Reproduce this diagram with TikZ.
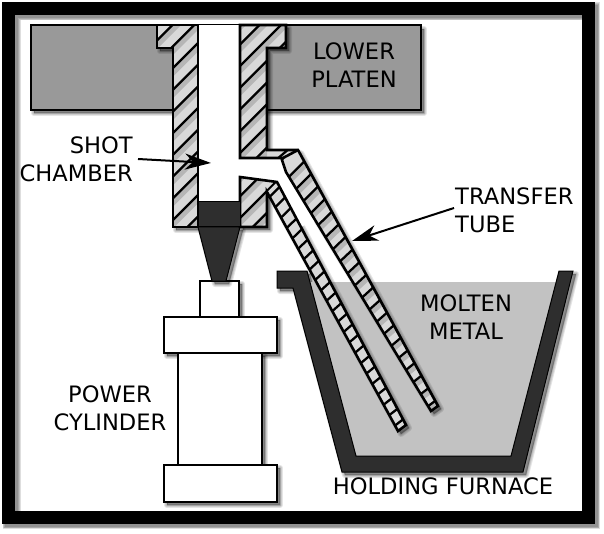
\documentclass[tikz,border=0pt]{standalone}
\usepackage{fontspec}
\setmainfont{DejaVu Sans}
\usetikzlibrary{calc,arrows.meta}
\tikzset{
  x=1pt,y=-1pt,
  outline/.style={draw=black,line width=2.6pt,line join=miter},
  thinline/.style={draw=black,line width=2pt,line join=miter,fill=white},
  darkpart/.style={draw=black,line width=1pt,fill=black!82},
  hatchline/.style={draw=black,line width=2.3pt},
  hatchglow/.style={draw=black,line width=5pt,opacity=.16},
  label/.style={font=\fontsize{22.6}{28}\selectfont,text=black,inner sep=0pt},
  pointer/.style={draw=black,line width=2pt,-{Stealth[length=26pt,width=16pt,inset=8pt]}},
}
\newcommand{\softshadow}[2][3]{%
  \begin{scope}[shift={(#1,#1)}]
    \foreach \w in {6,4,2,.5}{\path[draw=black,fill=black,opacity=.10,line width=\w pt,line join=round] #2;}
  \end{scope}}
\newcommand{\leftbodypath}{(157,25)--(198,25)--(198,227)--(173,227)--(173,48)--(157,48)--cycle}
\newcommand{\rightbodypath}{(240,25)--(286,25)--(286,48)--(267,48)--(267,150)--(298,150)--(438,406)--(431,411)--(286,172)--(282,160)--(283,158)--(240,158)--cycle}
\newcommand{\lowbodypath}{(240,177)--(277,182)--(406,425)--(398,431)--(267,192)--(267,227)--(240,227)--cycle}
\newcommand{\bodyhatch}[1]{\foreach \c in {0,...,19}{\pgfmathsetmacro{\hx}{154.2+\c*21.7}\draw[#1] (\hx+100,-100)--(\hx-300,300);}}
\begin{document}
\begin{tikzpicture}
\useasboundingbox (0,0) rectangle (604,534);
\fill[white] (0,0) rectangle (604,534);
% frame shadow
\foreach \w in {18,16.5,15,13.5}{\draw[black,opacity=.13,line width=\w pt] (11.5,11.5) rectangle (591,520);}
% lower platen
\softshadow{(31,26) rectangle (421,110)}
\node[draw=black,line width=2.6pt,fill=black!40,minimum width=390pt,minimum height=85pt,inner sep=0pt] (platen) at (226,67.5) {};
% molten metal and furnace
\softshadow{(277,271)--(307,271)--(356,456)--(511,456)--(559,271)--(573,271)--(523,472)--(342,472)--(293,288)--(277,288)--cycle}
\fill[black!24] (310,282)--(556,282)--(511,456)--(356,456)--cycle;
\path[darkpart] (277,271)--(307,271)--(356,456)--(511,456)--(559,271)--(573,271)--(523,472)--(342,472)--(293,288)--(277,288)--cycle;
% power cylinder
\softshadow{(200,281) rectangle (239,317)}
\softshadow{(164,317) rectangle (277,353)}
\softshadow{(178,353) rectangle (262,465)}
\softshadow{(164,465) rectangle (277,502)}
\node[thinline,minimum width=84pt,minimum height=112pt,inner sep=0pt] (cyl) at (220,409) {};
\node[thinline,minimum width=39pt,minimum height=36pt,inner sep=0pt] (rod) at (219.5,299) {};
\node[thinline,minimum width=113pt,minimum height=36pt,inner sep=0pt] (capt) at (220.5,335) {};
\node[thinline,minimum width=113pt,minimum height=37pt,inner sep=0pt] (capb) at (220.5,483.5) {};
% shot chamber body
\softshadow{\leftbodypath}
\softshadow{\rightbodypath}
\softshadow{\lowbodypath}
\softshadow{(198,227)--(240,227)--(226,281)--(212,281)--cycle}
\fill[white] (198,25) rectangle (240,205);
\fill[white] (240,158)--(283,158)--(286,172)--(316,221)--(292,230)--(277,182)--(240,177)--cycle;
\path[darkpart] (198,227)--(240,227)--(226,281)--(212,281)--cycle;
\path[darkpart] (198,202) rectangle (240,227);
% hatching
\path[fill=gray!30!white] \leftbodypath;
\begin{scope}
  \clip \leftbodypath;
  \begin{scope}[shift={(2,3)}]\bodyhatch{hatchglow}\end{scope}
  \bodyhatch{hatchline}
\end{scope}
\path[fill=gray!30!white] \rightbodypath;
\path[fill=gray!30!white] \lowbodypath;
\coordinate (ui0) at (286,172); \coordinate (ui1) at (431,411);
\coordinate (uo0) at (298,150); \coordinate (uo1) at (438,406);
\coordinate (lo0) at (267,192); \coordinate (lo1) at (398,431);
\coordinate (hi0) at (277,182); \coordinate (hi1) at (406,425);
\begin{scope}
  \clip (240,25)--(286,25)--(286,48)--(267,48)--(267,158)--(240,158)--cycle;
  \begin{scope}[shift={(2,3)}]\bodyhatch{hatchglow}\end{scope}
  \bodyhatch{hatchline}
\end{scope}
\begin{scope}
  \clip (240,177)--(277,182)--(267,192)--(267,227)--(240,227)--cycle;
  \begin{scope}[shift={(2,3)}]\bodyhatch{hatchglow}\end{scope}
  \bodyhatch{hatchline}
\end{scope}
\begin{scope}
  \clip (267,150)--(298,150)--(283,158)--(267,158)--cycle;
  \draw[hatchline] (276,160)--(290,148);
\end{scope}
\begin{scope}
  \clip \rightbodypath;
  \foreach \k in {0,...,19}{
    \pgfmathsetmacro{\tt}{.02+\k*.0505}
    \pgfmathsetmacro{\ts}{\tt+.025*(1-\tt)}
    \draw[hatchglow] ($(ui0)!\tt!(ui1)+(2,3)$)--($(uo0)!\ts!(uo1)+(2,3)$);
    \draw[hatchline] ($(ui0)!\tt!(ui1)$)--($(uo0)!\ts!(uo1)$);
  }
\end{scope}
\begin{scope}
  \clip \lowbodypath;
  \foreach \k in {0,...,22}{
    \pgfmathsetmacro{\tt}{.02+\k*.0435}
    \draw[hatchline] ($(lo0)!\tt!(lo1)$)--($(hi0)!\tt!(hi1)$);
  }
\end{scope}
\path[outline] \leftbodypath;
\path[outline] \rightbodypath;
\path[outline] \lowbodypath;
\path[darkpart] (198,202) rectangle (240,227);
\draw[black,line width=2.6pt] (283,158)--(298,150);
% frame
\draw[black,line width=13pt] (8.5,8.5) rectangle (588,517);
% labels
\node[label,align=center] (lower) at (354,65) {LOWER\\PLATEN};
\node[label,align=right,anchor=east] (shot) at (133,159) {SHOT\\CHAMBER};
\node[label,align=left,anchor=west] (transfer) at (455,210) {TRANSFER\\TUBE};
\node[label,align=center] (molten) at (466,317) {MOLTEN\\METAL};
\node[label,align=center] (power) at (110,408) {POWER\\CYLINDER};
\node[label] (holding) at (443,486) {HOLDING FURNACE};
% arrows
\coordinate (shotfrom) at (138,159);
\coordinate (shotto) at (211,163);
\coordinate (tubefrom) at (454,208);
\coordinate (tubeto) at (352,241);
\draw[pointer] (shotfrom)--(shotto);
\draw[pointer] (tubefrom)--(tubeto);
\end{tikzpicture}
\end{document}
